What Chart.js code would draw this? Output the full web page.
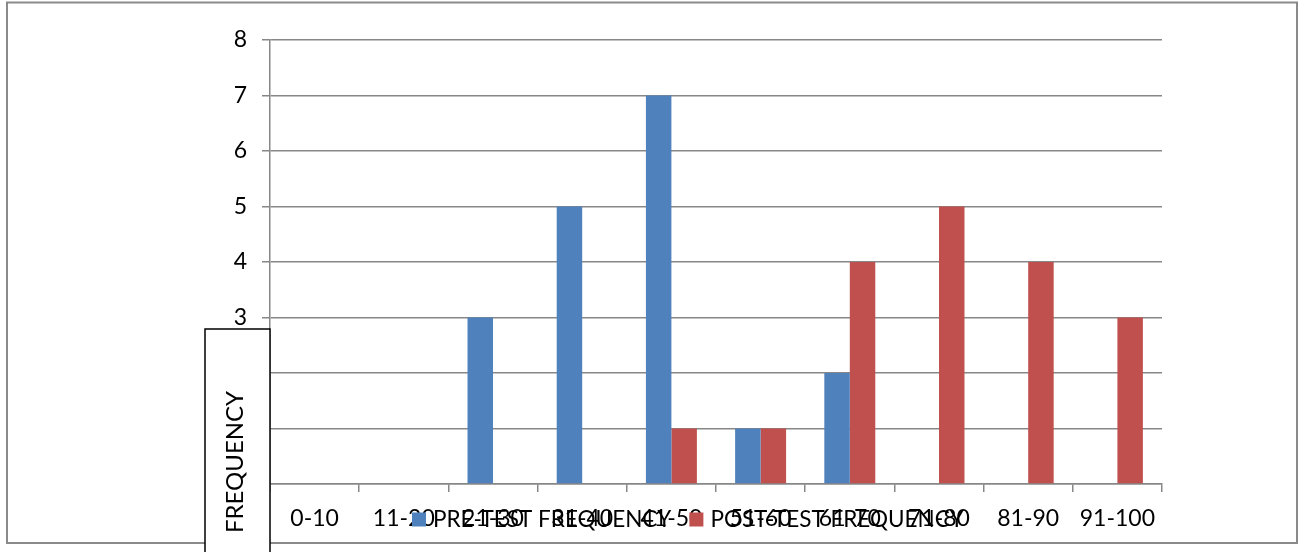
<!DOCTYPE html>
<html>
<head>
<meta charset="utf-8">
<style>
  html, body { margin: 0; padding: 0; background: #ffffff; }
  #wrap { width: 1302px; height: 552px; }
</style>
<script src="https://cdn.jsdelivr.net/npm/chart.js@4/dist/chart.umd.min.js"></script>
</head>
<body>
<div id="wrap"><canvas id="c" width="1302" height="552"></canvas></div>
<script>
// Score bands and frequencies
const categories = ['0-10', '11-20', '21-30', '31-40', '41-50', '51-60', '61-70', '71-80', '81-90', '91-100'];
const preTest = [0, 0, 3, 5, 7, 1, 2, 0, 0, 0];
const postTest = [0, 0, 0, 0, 1, 1, 4, 5, 4, 3];
const seriesNames = ['PRE-TEST FREQUENCY', 'POST-TEST FREQUENCY'];
const axisTitle = 'FREQUENCY';

const FONT = 'Lato, "Open Sans", "Liberation Sans", sans-serif';
const GRID = '#878787';

// Outer frame, axis-title box and the legend drawn on top of the axes
const overlay = {
  id: 'overlay',
  afterDraw(chart) {
    const ctx = chart.ctx;
    const area = chart.chartArea;
    ctx.save();

    // frame
    ctx.strokeStyle = '#8a8a8a';
    ctx.lineWidth = 2;
    ctx.strokeRect(7, 2.5, 1290, 540.5);

    // axis title box
    const bx = 205, by = 329, bw = area.left - 205;
    ctx.fillStyle = '#ffffff';
    ctx.fillRect(bx, by, bw, 560 - by);
    ctx.strokeStyle = '#000000';
    ctx.lineWidth = 1.5;
    ctx.strokeRect(bx, by, bw, 560 - by);
    ctx.fillStyle = '#000000';
    ctx.font = '24px ' + FONT;
    ctx.textAlign = 'center';
    ctx.textBaseline = 'middle';
    ctx.translate(235, 462);
    ctx.rotate(-Math.PI / 2);
    ctx.fillText(axisTitle, 0, 0);
    ctx.setTransform(1, 0, 0, 1, 0, 0);

    // legend
    ctx.font = '22.5px ' + FONT;
    ctx.textAlign = 'left';
    ctx.textBaseline = 'middle';
    let x = 412;
    const cy = 520;
    chart.data.datasets.forEach((ds) => {
      ctx.fillStyle = ds.backgroundColor;
      ctx.fillRect(x, cy - 7.5, 14, 14);
      ctx.fillStyle = '#000000';
      ctx.fillText(ds.label, x + 21, cy);
      x += 21 + ctx.measureText(ds.label).width + 18;
    });
    ctx.restore();
  }
};

new Chart(document.getElementById('c'), {
  type: 'bar',
  data: {
    labels: categories,
    datasets: [
      { label: seriesNames[0], data: preTest, backgroundColor: '#4F81BD', borderWidth: 0 },
      { label: seriesNames[1], data: postTest, backgroundColor: '#C0504D', borderWidth: 0 }
    ]
  },
  options: {
    responsive: false,
    animation: false,
    devicePixelRatio: 1,
    layout: { padding: { left: 0, right: 140, top: 40, bottom: 0 } },
    datasets: { bar: { categoryPercentage: 2 / 3.5, barPercentage: 1 } },
    plugins: { legend: { display: false }, tooltip: { enabled: false } },
    scales: {
      x: {
        offset: true,
        grid: { display: true, drawOnChartArea: false, drawTicks: true, tickLength: 8, color: GRID, lineWidth: 1.5, offset: true },
        border: { display: true, color: GRID, width: 1.5 },
        ticks: { color: '#000000', font: { family: FONT, size: 23 }, padding: 13, maxRotation: 0, autoSkip: false },
        afterFit(scale) { scale.height = 68; }
      },
      y: {
        min: 0,
        max: 8,
        grid: { color: GRID, lineWidth: 1.5, tickLength: 8, drawTicks: true },
        border: { display: true, color: GRID, width: 1.5 },
        ticks: { stepSize: 1, color: '#000000', font: { family: FONT, size: 23 }, padding: 15 },
        afterFit(scale) { scale.width = 270; }
      }
    }
  },
  plugins: [overlay]
});
</script>
</body>
</html>
